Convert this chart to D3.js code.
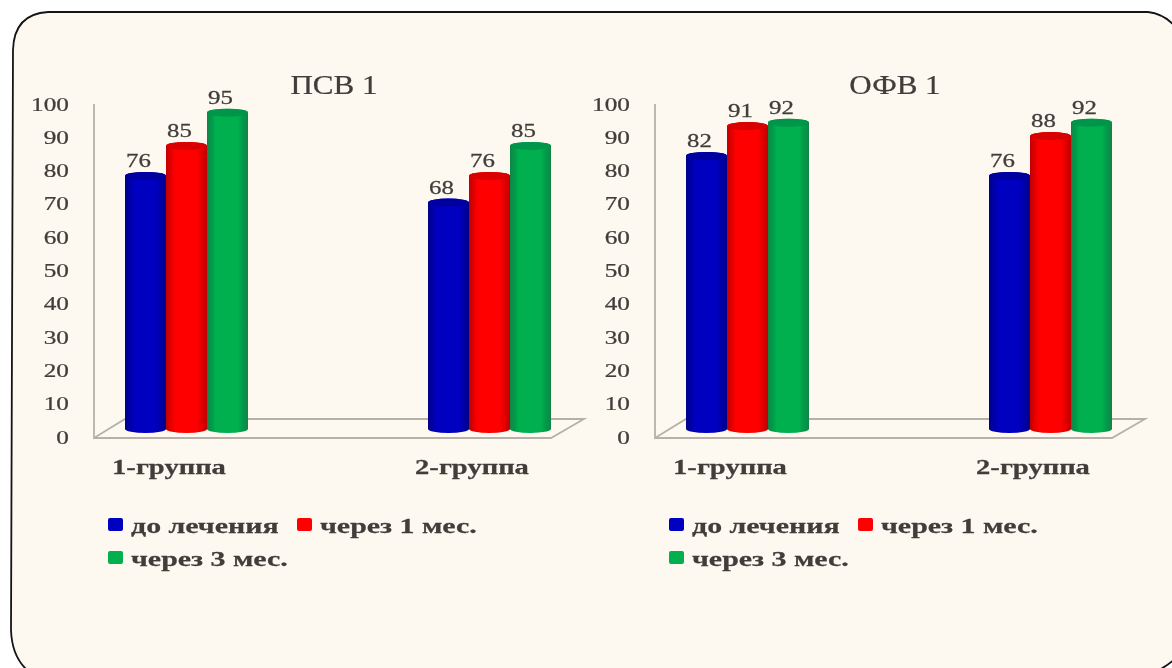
<!DOCTYPE html>
<html>
<head>
<meta charset="utf-8">
<script src="https://cdnjs.cloudflare.com/ajax/libs/d3/7.8.5/d3.min.js"></script>
<style>
html, body { margin: 0; padding: 0; background: #fff; overflow: hidden; }
text { font-family: "Liberation Serif", serif; fill: #403d3a; stroke: #403d3a; stroke-width: 0.25px; }
</style>
</head>
<body>
<div id="chart"></div>
<script>
const groups = ['1-группа', '2-группа'];
const seriesNames = ['до лечения', 'через 1 мес.', 'через 3 мес.'];
const seriesColors = ['#0000c0', '#ff0000', '#00b050'];
const seriesDark = ['#00008a', '#c00000', '#0a8444'];
const tickValues = [0, 10, 20, 30, 40, 50, 60, 70, 80, 90, 100];
const psvTitle = 'ПСВ 1';
const psvValues = [[76, 85, 95], [68, 76, 85]];
const ofvTitle = 'ОФВ 1';
const ofvValues = [[82, 91, 92], [76, 88, 92]];

const svg = d3.select('#chart').append('svg').attr('width', 1172).attr('height', 668);
const defs = svg.append('defs');
defs.append('filter').attr('id', 'soft').append('feGaussianBlur').attr('stdDeviation', 0.7);
seriesColors.forEach((c, i) => {
    const g = defs.append('linearGradient').attr('id', 'cyl' + i);
    g.append('stop').attr('offset', '0%').attr('stop-color', seriesDark[i]);
    g.append('stop').attr('offset', '22%').attr('stop-color', c);
    g.append('stop').attr('offset', '75%').attr('stop-color', c);
    g.append('stop').attr('offset', '100%').attr('stop-color', seriesDark[i]);
});

// panel
svg.append('path')
    .attr('d', 'M1148,12 H48 Q14,14 13,50 L11,630 Q12,660 32,674 H1150 Q1166,668 1178,656 V30 Q1166,14 1148,12 Z')
    .attr('fill', '#fdf9f1')
    .attr('stroke', '#151515')
    .attr('stroke-width', 1.8);

// the picture is wider than the original, so text is stretched
function wideText(parent, x, y, str, size, stretch, anchor, weight) {
    return parent.append('text')
        .attr('transform', `translate(${x},${y}) scale(${stretch},1)`)
        .attr('text-anchor', anchor)
        .style('font-size', size + 'px')
        .style('font-weight', weight || 'normal')
        .text(str);
}

function drawChart(x0, title, values) {
    const vis = svg.append('g').attr('filter', 'url(#soft)');
    const y = d3.scaleLinear().domain([0, 100]).range([437, 104]);
    const xGroup = d3.scalePoint().domain(groups).range([x0 + 92.5, x0 + 395.5]);
    const xSeries = d3.scaleBand().domain(seriesNames).range([-61.5, 61.5]);

    // wall and floor
    vis.append('path')
        .attr('d', `M${x0},${y(100)} V${y(0) + 1} L${x0 + 31},${y(0) - 18} H${x0 + 490} L${x0 + 457},${y(0) + 1} H${x0}`)
        .attr('fill', 'none')
        .attr('stroke', '#b5b1a8')
        .attr('stroke-width', 1.8);

    const axis = vis.append('g')
        .attr('transform', `translate(${x0 - 25},0)`)
        .call(d3.axisLeft(y).tickValues(tickValues).tickSize(0).tickPadding(0));
    axis.select('.domain').remove();
    axis.selectAll('text')
        .attr('x', 0)
        .attr('transform', 'scale(1.33,1)')
        .style('font-size', '19px');

    // cylinders stand a little behind the front edge of the floor
    const baseLift = 5;
    const topLift = 8;
    const rx = xSeries.bandwidth() / 2;
    groups.forEach((grp, gi) => {
        seriesNames.forEach((s, si) => {
            const v = values[gi][si];
            const left = xGroup(grp) + xSeries(s);
            const top = y(v) - topLift;
            const base = y(0) - baseLift;
            const ry = 4;
            vis.append('path')
                .attr('d', `M${left},${top} V${base - 3} A${rx},${ry} 0 0 0 ${left + rx * 2},${base - 3} V${top} A${rx},${ry} 0 0 0 ${left},${top} Z`)
                .attr('fill', `url(#cyl${si})`);
            vis.append('ellipse')
                .attr('cx', left + rx)
                .attr('cy', top)
                .attr('rx', rx)
                .attr('ry', ry)
                .attr('fill', d3.interpolateRgb(seriesColors[si], seriesDark[si])(0.6));
            wideText(vis, left + rx - 7, top - 9, v, 18, 1.38, 'middle');
        });
        wideText(vis, xGroup(grp) - 17.5, 474, grp, 22, 1.3, 'middle', 'bold');
    });

    wideText(vis, x0 + 240, 94, title, 27, 1.15, 'middle');

    // legend
    const legendPos = [[0, 0], [1, 0], [0, 1]];
    const legendX = [x0 + 14, x0 + 203];
    seriesNames.forEach((s, i) => {
        const lx = legendX[legendPos[i][0]];
        const ly = 527 + legendPos[i][1] * 33;
        vis.append('rect')
            .attr('x', lx)
            .attr('y', ly - 9)
            .attr('width', 15)
            .attr('height', 13)
            .attr('rx', 2)
            .attr('fill', seriesColors[i]);
        wideText(vis, lx + 23, ly + 6, s, 22, 1.36, 'start', 'bold');
    });
}

drawChart(94, psvTitle, psvValues);
drawChart(655, ofvTitle, ofvValues);
</script>
</body>
</html>
